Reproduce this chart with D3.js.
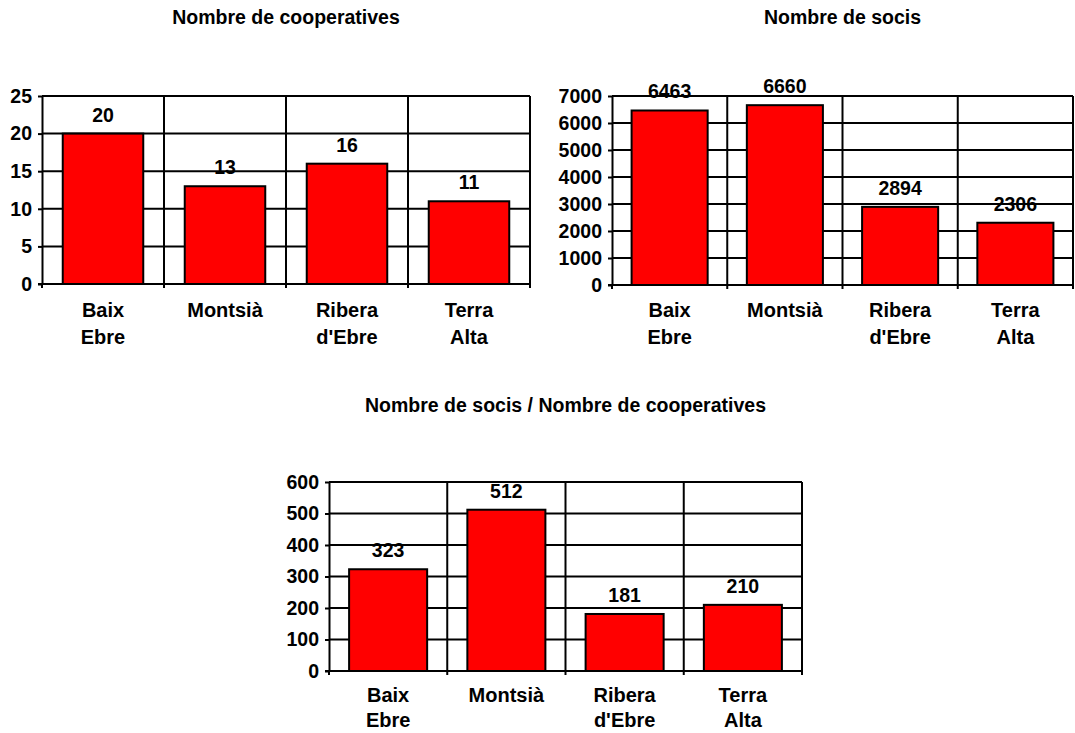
<!DOCTYPE html>
<html>
<head>
<meta charset="utf-8">
<script src="https://cdn.jsdelivr.net/npm/d3@7"></script>
<style>
  html, body { margin: 0; padding: 0; background: #fff; }
  svg { display: block; }
  text { font-family: "Liberation Sans", Arial, sans-serif; font-weight: bold; fill: #000; }
</style>
</head>
<body>
<svg id="chart" width="1075" height="733"></svg>
<script>
// ---- data ----
const categories = ["Baix Ebre", "Montsià", "Ribera d'Ebre", "Terra Alta"];
const cooperatives = [20, 13, 16, 11];
const socis = [6463, 6660, 2894, 2306];
const socisPerCoop = [323, 512, 181, 210];
const titles = ["Nombre de cooperatives", "Nombre de socis", "Nombre de socis / Nombre de cooperatives"];
const ticksCoop = [0, 5, 10, 15, 20, 25];
const ticksSocis = [0, 1000, 2000, 3000, 4000, 5000, 6000, 7000];
const ticksRatio = [0, 100, 200, 300, 400, 500, 600];

const svg = d3.select("#chart");

function drawChart(cfg) {
  const { x0, x1, y0, y1, values, ticks, title, titleY, labelOffset, lineGap } = cfg;
  const g = svg.append("g");
  const x = d3.scaleBand().domain(categories).range([x0, x1])
    .paddingInner(0.34).paddingOuter(0.17);
  const y = d3.scaleLinear().domain([0, d3.max(ticks)]).range([y1, y0]);
  const step = x.step();

  // title
  g.append("text").attr("x", (x0 + x1) / 2).attr("y", titleY)
    .attr("text-anchor", "middle").style("font-size", "19.5px").text(title);

  // horizontal gridlines
  g.append("g").selectAll("line").data(ticks).join("line")
    .attr("x1", x0).attr("x2", x1)
    .attr("y1", d => y(d)).attr("y2", d => y(d))
    .attr("stroke", "#000").attr("stroke-width", 2);

  // vertical category boundaries (with tick below axis)
  const bounds = d3.range(categories.length + 1).map(i => x0 + i * step);
  g.append("g").selectAll("line").data(bounds.slice(1)).join("line")
    .attr("x1", d => d).attr("x2", d => d)
    .attr("y1", y0).attr("y2", y1 + 4)
    .attr("stroke", "#000").attr("stroke-width", 2);
  g.append("line").attr("x1", x0).attr("x2", x0).attr("y1", y1).attr("y2", y1 + 4)
    .attr("stroke", "#000").attr("stroke-width", 2);

  // left axis
  const ax = g.append("g").attr("transform", `translate(${x0},0)`)
    .call(d3.axisLeft(y).tickValues(ticks).tickSize(4).tickSizeOuter(0).tickPadding(6).tickFormat(d3.format("d")));
  ax.select(".domain").attr("stroke", "#000").attr("stroke-width", 2);
  ax.selectAll(".tick line").attr("stroke", "#000").attr("stroke-width", 2);
  ax.selectAll(".tick text").style("font-size", "19.5px").style("font-family", "'Liberation Sans', Arial, sans-serif").style("font-weight", "bold").attr("fill", "#000");

  // bottom axis line
  g.append("line").attr("x1", x0 - 4).attr("x2", x1).attr("y1", y1).attr("y2", y1)
    .attr("stroke", "#000").attr("stroke-width", 2);

  // bars
  g.append("g").selectAll("rect").data(values).join("rect")
    .attr("x", (d, i) => x(categories[i]))
    .attr("width", x.bandwidth())
    .attr("y", d => y(d))
    .attr("height", d => y1 - y(d))
    .attr("fill", "#ff0000").attr("stroke", "#000").attr("stroke-width", 2);

  // value labels
  g.append("g").selectAll("text").data(values).join("text")
    .attr("x", (d, i) => x(categories[i]) + x.bandwidth() / 2)
    .attr("y", d => y(d) - 12)
    .attr("text-anchor", "middle").style("font-size", "19.5px")
    .text(d => d);

  // category labels
  const cl = g.append("g").selectAll("text").data(categories).join("text")
    .attr("text-anchor", "middle").style("font-size", "20px")
    .attr("transform", d => `translate(${x(d) + x.bandwidth() / 2},${y1 + labelOffset})`);
  cl.selectAll("tspan").data(d => d.split(" ")).join("tspan")
    .attr("x", 0).attr("y", (d, i) => i * lineGap).text(d => d);
}

drawChart({ x0: 42, x1: 530, y0: 96, y1: 284, values: cooperatives, ticks: ticksCoop, title: titles[0], titleY: 24, labelOffset: 33, lineGap: 27 });
drawChart({ x0: 612, x1: 1073, y0: 96, y1: 285, values: socis, ticks: ticksSocis, title: titles[1], titleY: 24, labelOffset: 32, lineGap: 27 });
drawChart({ x0: 329, x1: 802, y0: 482, y1: 671, values: socisPerCoop, ticks: ticksRatio, title: titles[2], titleY: 412, labelOffset: 31, lineGap: 25 });
</script>
</body>
</html>
